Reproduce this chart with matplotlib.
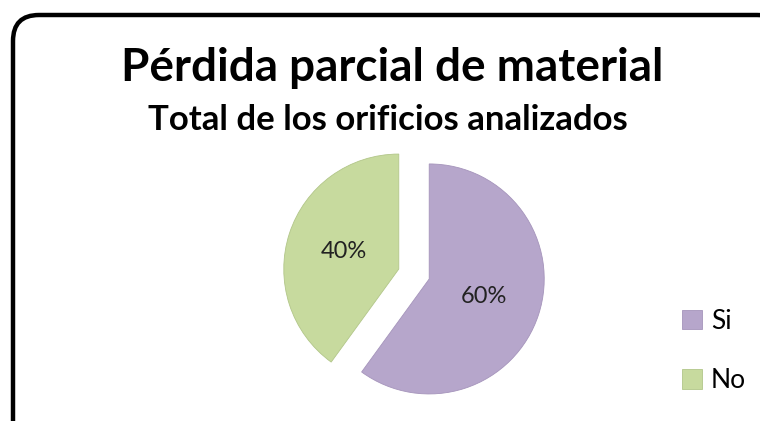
import matplotlib
matplotlib.use("Agg")
import matplotlib.pyplot as plt
from matplotlib.patches import FancyBboxPatch

# data
labels = ["Si", "No"]
shares = [60, 40]
colors = ["#b6a6cb", "#c7da9e"]

title = "Pérdida parcial de material"
subtitle = "Total de los orificios analizados"

plt.rcParams["font.family"] = ["Lato", "DejaVu Sans"]

fig = plt.figure(figsize=(7.6, 4.21), dpi=100)
ax = fig.add_axes([0, 0, 1, 1])

# rounded frame, running off the right and bottom edges
frame = FancyBboxPatch((13, -30), 770, 436, boxstyle="round,pad=0,rounding_size=26",
                       facecolor="white", edgecolor="black", linewidth=3.2, zorder=0)
ax.add_patch(frame)

# axes units are pixels here, so explode is in pixels too
wedges, texts, autotexts = ax.pie(
    shares, colors=colors, startangle=90, counterclock=False,
    explode=[16, 16], center=(414, 147), radius=115,
    autopct="%1.0f%%", pctdistance=0.5, frame=True,
    wedgeprops=dict(edgecolor="#a594bb", linewidth=0.6),
    textprops=dict(fontsize=17, color="#222222"))
wedges[1].set_edgecolor("#b2c689")
ax.set_xlim(0, 760)
ax.set_ylim(0, 421)
ax.axis("off")

ax.text(392, 421 - 68, title, ha="center", va="center",
        fontsize=33, fontweight="bold")
ax.text(388, 421 - 120, subtitle, ha="center", va="center",
        fontsize=25, fontweight="bold")

ax.legend(wedges, labels, loc="center left", bbox_to_anchor=(658 / 760, (421 - 351) / 421),
          frameon=False, fontsize=19, handlelength=0.75, handleheight=0.75,
          handletextpad=0.35, labelspacing=1.3)

fig.savefig("out.png", dpi=100)
